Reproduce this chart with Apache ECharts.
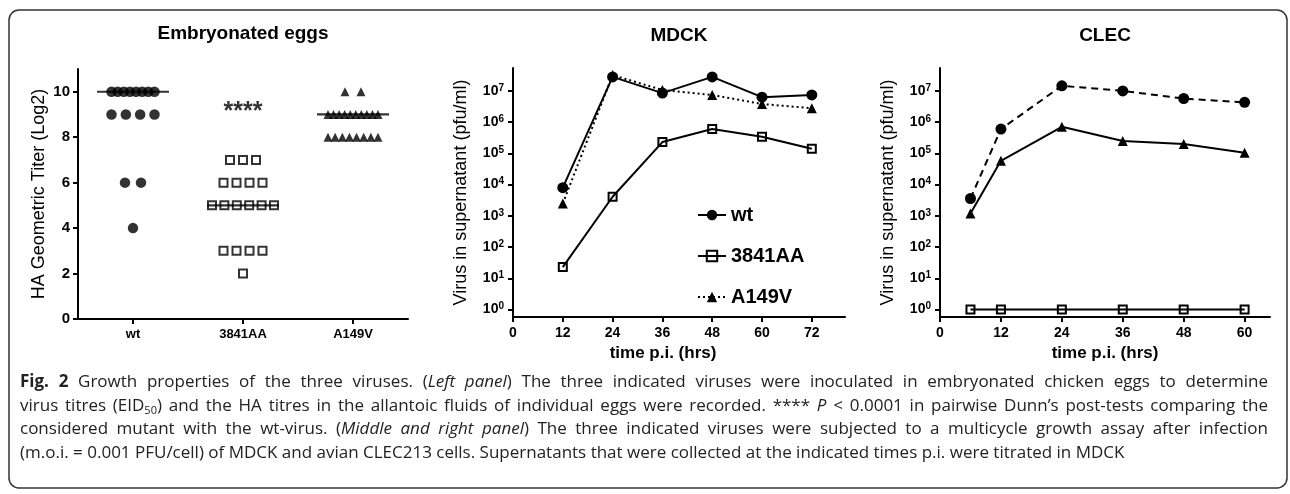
<!DOCTYPE html>
<html><head><meta charset="utf-8">
<script src="https://cdn.jsdelivr.net/npm/echarts@6/dist/echarts.min.js"></script>
<style>html,body{margin:0;padding:0;background:#fff}#c{width:1290px;height:494px}</style>
</head><body><div id="c"></div>
<script>
// ---------- data ----------
const eggCategories = ['wt', '3841AA', 'A149V'];
const eggsWt = [10,10,10,10,10,10,10,10,9,9,9,9,6,6,4];
const eggs3841AA = [7,7,7,6,6,6,6,5,5,5,5,5,5,3,3,3,3,2];
const eggsA149V = [10,10,9,9,9,9,9,9,9,9,9,9,8,8,8,8,8,8,8,8];
const eggTicks = [0,2,4,6,8,10];
const sigLabel = '****';
const sigY = 9.1;

const mdckTimes = [12,24,36,48,60,72];
const mdckWt = [8e3,2.8e7,8.5e6,2.8e7,6.3e6,7.4e6];
const mdck3841AA = [23,4.1e3,2.3e5,6e5,3.4e5,1.4e5];
const mdckA149V = [2.5e3,3.2e7,1.07e7,7.4e6,3.8e6,2.8e6];
const mdckTimeTicks = [0,12,24,36,48,60,72];

const clecTimes = [6,12,24,36,48,60];
const clecWt = [3.6e3,6e5,1.45e7,1e7,5.7e6,4.3e6];
const clec3841AA = [1,1,1,1,1,1];
const clecA149V = [1.2e3,5.8e4,7.1e5,2.5e5,2e5,1.05e5];
const clecTimeTicks = [0,12,24,36,48,60];

const logTicks = [1,10,100,1e3,1e4,1e5,1e6,1e7];

const captionLines = [
  '{b|Fig. 2} Growth properties of the three viruses. ({i|Left panel}) The three indicated viruses were inoculated in embryonated chicken eggs to determine',
  'virus titres (EID{sub|50}) and the HA titres in the allantoic fluids of individual eggs were recorded. **** {i|P} < 0.0001 in pairwise Dunn\u2019s post-tests comparing the',
  'considered mutant with the wt-virus. ({i|Middle and right panel}) The three indicated viruses were subjected to a multicycle growth assay after infection',
  '(m.o.i. = 0.001 PFU/cell) of MDCK and avian CLEC213 cells. Supernatants that were collected at the indicated times p.i. were titrated in MDCK'
];

// ---------- helpers ----------
const FF = "'Liberation Sans', Arial, sans-serif";
const CF = "'Open Sans', 'Noto Sans', sans-serif";
function zip(xs, ys) { return xs.map((x, i) => [x, ys[i]]); }
function median(a) {
  const s = a.slice().sort((p, q) => p - q); const n = s.length;
  return n % 2 ? s[(n - 1) / 2] : (s[n / 2 - 1] + s[n / 2]) / 2;
}
function swarm(values, cat, spacing, span) {
  const counts = {}; values.forEach(v => counts[v] = (counts[v] || 0) + 1);
  const seen = {};
  return values.map(v => {
    const n = counts[v];
    seen[v] = seen[v] === undefined ? 0 : seen[v] + 1;
    const s = n > 1 ? Math.min(spacing, span / (n - 1)) : 0;
    return { value: [cat, v], symbolOffset: [(seen[v] - (n - 1) / 2) * s, 0] };
  });
}
const axisLine = { show: true, onZero: false, lineStyle: { color: '#000', width: 2 } };
const axisTickBase = { show: true, length: 5, lineStyle: { color: '#000', width: 2 } };
const tickLabel = { color: '#000', fontFamily: FF, fontSize: 14, fontWeight: 'bold' };
const logRich = {
  b: { fontSize: 14, fontWeight: 'bold', fontFamily: FF, color: '#000', lineHeight: 16 },
  s: { fontSize: 10, fontWeight: 'bold', fontFamily: FF, color: '#000', lineHeight: 8, verticalAlign: 'top' }
};
function logFmt(v) { return '{b|10}{s|' + Math.round(Math.log10(v)) + '}'; }
function logY(grid) {
  return {
    type: 'log', logBase: 10, gridIndex: grid, min: 0.58, max: 5.4e7,
    name: 'Virus in supernatant (pfu/ml)', nameLocation: 'middle', nameGap: 43,
    nameTextStyle: { fontFamily: FF, fontSize: 18, color: '#000' },
    axisLine, axisTick: Object.assign({ customValues: logTicks }, axisTickBase),
    axisLabel: { customValues: logTicks, margin: 9, formatter: logFmt, rich: logRich, color: '#000' },
    splitLine: { show: false }, minorTick: { show: false }
  };
}
function timeX(grid, max, ticks, pad) {
  return {
    type: 'value', gridIndex: grid, min: 0, max: max,
    name: 'time p.i. (hrs)', nameLocation: 'middle', nameGap: 25,
    nameTextStyle: { fontFamily: FF, fontSize: 17, fontWeight: 'bold', color: '#000', padding: pad },
    axisLine, axisTick: Object.assign({ customValues: ticks }, axisTickBase),
    axisLabel: Object.assign({ customValues: ticks, margin: 9 }, tickLabel),
    splitLine: { show: false }
  };
}
const blk = { color: '#000', width: 2 };
const sq = { color: 'transparent', borderColor: '#000', borderWidth: 2 };

// ---------- caption (justified word layout) ----------
const capSize = 17;
const capStyles = {
  n: { fontSize: capSize, fontFamily: CF, fontWeight: 'normal', fontStyle: 'normal', lineHeight: 22 },
  b: { fontSize: capSize, fontFamily: CF, fontWeight: 'bold', fontStyle: 'normal', lineHeight: 22 },
  i: { fontSize: capSize, fontFamily: CF, fontWeight: 'normal', fontStyle: 'italic', lineHeight: 22 },
  sub: { fontSize: 11, fontFamily: CF, fontWeight: 'normal', fontStyle: 'normal', lineHeight: 13, verticalAlign: 'bottom' }
};
const mctx = document.createElement('canvas').getContext('2d');
function measure(text, st) {
  mctx.font = [st.fontStyle, st.fontWeight, st.fontSize + 'px', st.fontFamily].join(' ');
  return mctx.measureText(text).width;
}
function parseLine(line) {
  const re = /\{(\w+)\|([^}]*)\}|([^{]+)/g; let m; const segs = [];
  while ((m = re.exec(line))) segs.push(m[3] !== undefined ? { t: m[3], s: 'n' } : { t: m[2], s: m[1] });
  const words = []; let cur = [];
  segs.forEach(sg => {
    const parts = sg.t.split(' ');
    parts.forEach((p, k) => {
      if (k > 0) { if (cur.length) words.push(cur); cur = []; }
      if (p.length) cur.push({ t: p, s: sg.s });
    });
  });
  if (cur.length) words.push(cur);
  return words;
}
const capLeft = 20, capRight = 1268, capTop = 382, capStep = 23.7;
const captionEls = [];
captionLines.forEach((line, li) => {
  const words = parseLine(line);
  const widths = words.map(w => w.reduce((a, p) => a + measure(p.t, capStyles[p.s]), 0));
  const total = widths.reduce((a, b) => a + b, 0);
  const last = li === captionLines.length - 1;
  const gap = last ? measure(' ', capStyles.n) : (capRight - capLeft - total) / (words.length - 1);
  let x = capLeft;
  words.forEach((w, wi) => {
    captionEls.push({
      type: 'text', x: x, y: capTop + li * capStep, silent: true,
      style: {
        text: w.map(p => '{' + p.s + '|' + p.t + '}').join(''),
        rich: capStyles, fontSize: capSize, fontFamily: CF, fill: '#222',
        verticalAlign: 'middle', textVerticalAlign: 'middle'
      }
    });
    x += widths[wi] + gap;
  });
});
function titleText(txt, x, y) {
  return { type: 'text', x: x, y: y, silent: true,
    style: { text: txt, fontSize: 19, fontWeight: 'bold', fontFamily: FF, fill: '#000',
      align: 'center', textAlign: 'center', verticalAlign: 'middle', textVerticalAlign: 'middle' } };
}

// ---------- chart ----------
const chart = echarts.init(document.getElementById('c'), null, { renderer: 'canvas' });
chart.setOption({
  animation: false,
  backgroundColor: '#fff',
  grid: [
    { left: 78, top: 69, width: 330, height: 250 },
    { left: 513, top: 68, width: 332, height: 249 },
    { left: 940, top: 68, width: 330, height: 249 }
  ],
  xAxis: [
    { type: 'category', gridIndex: 0, data: eggCategories, boundaryGap: true,
      axisLine, axisTick: Object.assign({ alignWithLabel: true }, axisTickBase),
      axisLabel: Object.assign({ margin: 9 }, tickLabel, { fontSize: 13 }), splitLine: { show: false } },
    timeX(1, 80, mdckTimeTicks, [0, 32, 0, 0]),
    timeX(2, 65, clecTimeTicks, [0, 0, 0, 0])
  ],
  yAxis: [
    { type: 'value', gridIndex: 0, min: 0, max: 11,
      name: 'HA Geometric Titer (Log2)', nameLocation: 'middle', nameGap: 30,
      nameTextStyle: { fontFamily: FF, fontSize: 18, color: '#000' },
      axisLine, axisTick: Object.assign({ customValues: eggTicks }, axisTickBase),
      axisLabel: Object.assign({ customValues: eggTicks, margin: 8 }, tickLabel, { fontSize: 15 }), splitLine: { show: false } },
    logY(1),
    logY(2)
  ],
  legend: {
    data: ['wt', '3841AA', 'A149V'], orient: 'vertical', left: 692, top: 200,
    itemWidth: 28, itemHeight: 13, itemGap: 21, selectedMode: false,
    textStyle: { fontFamily: FF, fontSize: 20, fontWeight: 'bold', color: '#000' }
  },
  graphic: [
    { type: 'rect', silent: true, shape: { x: 9, y: 10, width: 1278, height: 478, r: 10 },
      style: { fill: 'none', stroke: '#333', lineWidth: 1.5 } },
    titleText('Embryonated eggs', 243, 34),
    titleText('MDCK', 679, 36),
    titleText('CLEC', 1105, 36)
  ].concat(captionEls),
  series: [
    { name: 'eggs wt', type: 'scatter', xAxisIndex: 0, yAxisIndex: 0, symbol: 'circle', symbolSize: 10.5,
      itemStyle: { color: '#000' }, data: swarm(eggsWt, 0, 16, 43) },
    { name: 'eggs 3841AA', type: 'scatter', xAxisIndex: 0, yAxisIndex: 0, symbol: 'rect', symbolSize: 8,
      itemStyle: sq, data: swarm(eggs3841AA, 1, 13, 62) },
    { name: 'eggs A149V', type: 'scatter', xAxisIndex: 0, yAxisIndex: 0, symbol: 'triangle', symbolSize: 9,
      itemStyle: { color: '#000' }, data: swarm(eggsA149V, 2, 16, 50) },
    { name: 'eggs median', type: 'scatter', xAxisIndex: 0, yAxisIndex: 0, symbol: 'rect', symbolSize: [72, 2.2],
      itemStyle: { color: '#000' }, z: 5,
      data: [[0, median(eggsWt)], [1, median(eggs3841AA)], [2, median(eggsA149V)]] },
    { name: 'eggs sig', type: 'scatter', xAxisIndex: 0, yAxisIndex: 0, symbolSize: 0,
      label: { show: true, position: 'inside', formatter: sigLabel, fontFamily: FF, fontSize: 25, fontWeight: 'bold', color: '#000' },
      data: [[1, sigY]] },

    { name: 'wt', type: 'line', xAxisIndex: 1, yAxisIndex: 1, data: zip(mdckTimes, mdckWt),
      symbol: 'circle', symbolSize: 11, lineStyle: blk, itemStyle: { color: '#000' } },
    { name: '3841AA', type: 'line', xAxisIndex: 1, yAxisIndex: 1, data: zip(mdckTimes, mdck3841AA),
      symbol: 'rect', symbolSize: 8, lineStyle: blk, itemStyle: sq },
    { name: 'A149V', type: 'line', xAxisIndex: 1, yAxisIndex: 1, data: zip(mdckTimes, mdckA149V),
      symbol: 'triangle', symbolSize: 10, lineStyle: { color: '#000', width: 2, type: [2, 3] }, itemStyle: { color: '#000' } },

    { name: 'wt', type: 'line', xAxisIndex: 2, yAxisIndex: 2, data: zip(clecTimes, clecWt),
      symbol: 'circle', symbolSize: 11, lineStyle: { color: '#000', width: 2, type: [7, 5] }, itemStyle: { color: '#000' } },
    { name: '3841AA', type: 'line', xAxisIndex: 2, yAxisIndex: 2, data: zip(clecTimes, clec3841AA),
      symbol: 'rect', symbolSize: 8, lineStyle: blk, itemStyle: sq },
    { name: 'A149V', type: 'line', xAxisIndex: 2, yAxisIndex: 2, data: zip(clecTimes, clecA149V),
      symbol: 'triangle', symbolSize: 10, lineStyle: blk, itemStyle: { color: '#000' } }
  ]
});
</script></body></html>
